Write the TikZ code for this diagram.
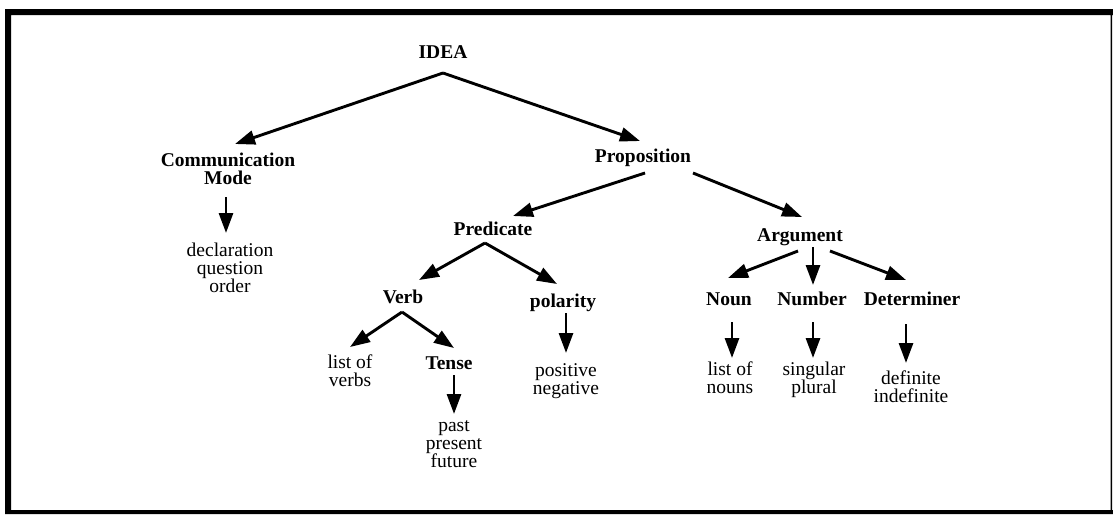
\documentclass[tikz,border=0pt]{standalone}
\usepackage{fontspec}
\setmainfont{Liberation Serif}
\usetikzlibrary{arrows.meta}

\begin{document}
\begin{tikzpicture}[x=1pt,y=-1pt,
        every node/.style={inner sep=0pt,font=\fontsize{19.5}{18}\selectfont},
        head/.style={anchor=base,font=\fontsize{19.5}{18}\selectfont\bfseries},
        leaf/.style={anchor=north,align=center},
        arr/.style={line width=2.9pt,-{Triangle[length=20pt,width=14pt]}}]
                \useasboundingbox (0,0) rectangle (1113,514);
                % frame
                \fill (5,9) rectangle (11,514) (5,9) rectangle (1113,15)
                      (5,510) rectangle (1113,514) (1110.5,9) rectangle (1112,514);
                % nodes
                \node [head,anchor=north,align=center] (cm) at (228,153) {Communication\\Mode};
                \node [head] (idea) at (443,58) {IDEA};
                \node [leaf] (decl) at (230,243) {declaration\\question\\order};
                \node [head] (prop) at (643,162) {Proposition};
                \node [head] (pred) at (493,235) {Predicate};
                \node [head] (arg) at (800,241) {Argument};
                \node [head] (verb) at (403,303) {Verb};
                \node [head] (pol) at (563,307) {polarity};
                \node [leaf] (verbs) at (350,355) {list of\\verbs};
                \node [head] (tense) at (449,369) {Tense};
                \node [leaf] (tenses) at (454,420) {past\\present\\future};
                \node [leaf] (pols) at (566,363) {positive\\negative};
                \node [head] (noun) at (729,305) {Noun};
                \node [head] (num) at (812,305) {Number};
                \node [head] (det) at (912,305) {Determiner};
                \node [leaf] (nouns) at (730,362) {list of\\nouns};
                \node [leaf] (nums) at (814,362) {singular\\plural};
                \node [leaf] (dets) at (911,371) {definite\\indefinite};
                % arrows
                \draw [arr] ([shift={(0,15)}]idea.base) -- ([shift={(7,-9)}]cm.north);
                \draw [arr] ([shift={(0,15)}]idea.base) -- ([shift={(-3,-21)}]prop.base);
                \draw [arr] ([shift={(-2,44)}]cm.north) -- ([shift={(-4,-10)}]decl.north);
                \draw [arr] ([shift={(2,11)}]prop.base) -- ([shift={(20,-19)}]pred.base);
                \draw [arr] ([shift={(50,11)}]prop.base) -- ([shift={(2,-24)}]arg.base);
                \draw [arr] ([shift={(-8,8)}]pred.base) -- ([shift={(16,-23)}]verb.base);
                \draw [arr] ([shift={(-8,8)}]pred.base) -- ([shift={(-6,-23)}]pol.base);
                \draw [arr] ([shift={(-1,9)}]verb.base) -- ([shift={(0,-8)}]verbs.north);
                \draw [arr] ([shift={(-1,9)}]verb.base) -- ([shift={(5,-21)}]tense.base);
                \draw [arr] ([shift={(3,6)}]pol.base) -- ([shift={(0,-10)}]pols.north);
                \draw [arr] ([shift={(5,6)}]tense.base) -- ([shift={(0,-6)}]tenses.north);
                \draw [arr] ([shift={(-2,10)}]arg.base) -- ([shift={(-1,-27)}]noun.base);
                \draw [arr] ([shift={(13,6)}]arg.base) -- ([shift={(1,-20)}]num.base);
                \draw [arr] ([shift={(30,10)}]arg.base) -- ([shift={(-6,-25)}]det.base);
                \draw [arr] ([shift={(3,17)}]noun.base) -- ([shift={(2,-4)}]nouns.north);
                \draw [arr] ([shift={(1,17)}]num.base) -- ([shift={(-1,-4)}]nums.north);
                \draw [arr] ([shift={(-6,19)}]det.base) -- ([shift={(-5,-8)}]dets.north);
\end{tikzpicture}
\end{document}
